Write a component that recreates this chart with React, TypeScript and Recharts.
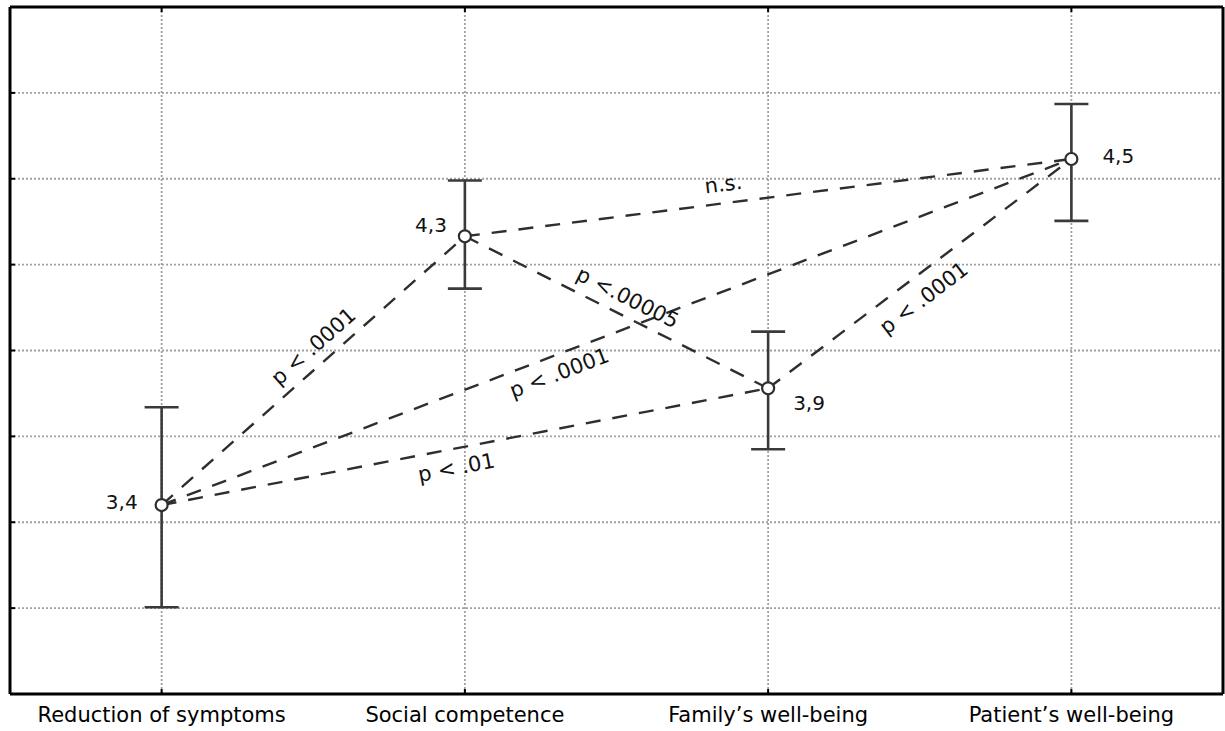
import React from 'react';
import { ComposedChart, Line, XAxis, YAxis, CartesianGrid, ErrorBar, ReferenceLine, LabelList } from 'recharts';

const CATEGORIES = ['Reduction of symptoms', 'Social competence', 'Family’s well-being', 'Patient’s well-being'];
// y axis has no numbers in the source; values are read on a 0..8 grid scale
const MEANS = [2.2, 5.33, 3.56, 6.23];
const UPPER = [3.34, 5.98, 4.22, 6.87];
const LOWER = [1.01, 4.72, 2.85, 5.51];
const MEAN_LABELS = ['3,4', '4,3', '3,9', '4,5'];
const Y_TICKS = [1, 2, 3, 4, 5, 6, 7];

// pairwise comparisons
const PAIR_FROM = [0, 0, 0, 1, 1, 2];
const PAIR_TO = [1, 3, 2, 2, 3, 3];
const PAIR_LABELS = ['p < .0001', 'p < .0001', 'p < .01', 'p <.00005', 'n.s.', 'p < .0001'];

// label placement along each segment
const PAIR_POS = [0.54, 0.43, 0.48, 0.51, 0.43, 0.47];
const PAIR_GAP = [18, 18, 19, 18, 19, 22];
const PAIR_SIDE = [-1, 1, 1, -1, -1, 1]; // -1 above the line, 1 below

const FONT = '"DejaVu Sans", Verdana, sans-serif';
const INK = '#2e2e2e';

const data = CATEGORIES.map((name, i) => ({
  name,
  mean: MEANS[i],
  err: [MEANS[i] - LOWER[i], UPPER[i] - MEANS[i]],
}));

// where the value text sits around each mean point
const MEAN_LABEL_POS = [
  { dx: -24, dy: -3, anchor: 'end' },
  { dx: -18, dy: -11, anchor: 'end' },
  { dx: 25, dy: 15, anchor: 'start' },
  { dx: 31, dy: -3, anchor: 'start' },
];

const meanLabel = (props: any) => {
  const { x, y, index } = props;
  const p = MEAN_LABEL_POS[index];
  return (
    <text x={x + p.dx} y={y + p.dy} textAnchor={p.anchor} dominantBaseline="central"
      fontSize={20} fontFamily={FONT} fill="#111">
      {MEAN_LABELS[index]}
    </text>
  );
};

const pairLabel = (i: number) => (props: any) => {
  const { x, y, width, height } = props.viewBox;
  const rising = MEANS[PAIR_TO[i]] > MEANS[PAIR_FROM[i]];
  const x1 = x, x2 = x + width;
  const y1 = rising ? y + height : y;
  const y2 = rising ? y : y + height;
  const a = Math.atan2(y2 - y1, x2 - x1);
  const t = PAIR_POS[i];
  const d = PAIR_GAP[i] * PAIR_SIDE[i];
  const cx = x1 + (x2 - x1) * t - Math.sin(a) * d;
  const cy = y1 + (y2 - y1) * t + Math.cos(a) * d;
  return (
    <text x={cx} y={cy} transform={`rotate(${(a * 180) / Math.PI} ${cx} ${cy})`}
      textAnchor="middle" dominantBaseline="central" fontSize={21} fontFamily={FONT} fill="#111">
      {PAIR_LABELS[i]}
    </text>
  );
};

const frame = { stroke: '#000', strokeWidth: 3 };
const tickMark = { stroke: '#000', strokeWidth: 2 };
const noText = () => <g />;

export default function App() {
  return (
    <div style={{ position: 'absolute', left: 0, top: 0 }}>
      <ComposedChart width={1225} height={731} data={data} margin={{ top: 6, right: 1, left: 9, bottom: 0 }}>
        <CartesianGrid stroke="#a0a0a0" strokeDasharray="2 2" strokeWidth={1.8} />
        <XAxis dataKey="name" scale="band" interval={0} height={37} axisLine={frame}
          tickLine={tickMark} tickSize={-5} tickMargin={18}
          tick={{ fill: '#000', fontSize: 21, fontFamily: FONT }} />
        <XAxis xAxisId="top" dataKey="name" scale="band" orientation="top" height={1} tick={noText}
          tickSize={-5} axisLine={frame} tickLine={tickMark} />
        <YAxis domain={[0, 8]} ticks={Y_TICKS} interval={0} width={1} tick={noText} tickSize={-5}
          axisLine={frame} tickLine={tickMark} />
        <YAxis yAxisId="right" orientation="right" domain={[0, 8]} ticks={Y_TICKS} interval={0} width={1}
          tick={noText} tickSize={-5} axisLine={frame} tickLine={tickMark} />
        {PAIR_FROM.map((a, i) => (
          <ReferenceLine key={i} ifOverflow="visible"
            segment={[{ x: CATEGORIES[a], y: MEANS[a] }, { x: CATEGORIES[PAIR_TO[i]], y: MEANS[PAIR_TO[i]] }]}
            stroke={INK} strokeWidth={2.4} strokeDasharray="15 12" label={pairLabel(i)} />
        ))}
        <Line dataKey="mean" stroke="none" isAnimationActive={false}
          dot={{ r: 6, fill: '#fff', stroke: INK, strokeWidth: 2.2 }} activeDot={false}>
          <ErrorBar dataKey="err" direction="y" width={17} stroke="#3a3a3a" strokeWidth={2.6} />
          <LabelList dataKey="mean" content={meanLabel} />
        </Line>
      </ComposedChart>
    </div>
  );
}
